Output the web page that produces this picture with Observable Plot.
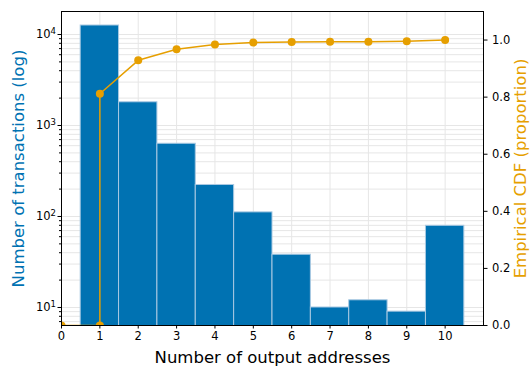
<!DOCTYPE html>
<html>
<head>
<meta charset="utf-8">
<script src="https://cdn.jsdelivr.net/npm/d3@7"></script>
<script src="https://cdn.jsdelivr.net/npm/@observablehq/plot@0.6"></script>
<style>
  html, body { margin: 0; padding: 0; background: #fff; }
  #chart { position: relative; width: 530px; height: 366px; }
  #chart svg { position: absolute; left: 0; top: 0; }
</style>
</head>
<body>
<div id="chart"></div>
<script>
// ---- data ----
const outputs = [1, 2, 3, 4, 5, 6, 7, 8, 9, 10];
const counts  = [12560, 1800, 630, 222, 111, 38, 10, 12, 9, 79];
const cdfX = [0, 1, 1, 2, 3, 4, 5, 6, 7, 8, 9, 10];
const cdfY = [0, 0, 0.812, 0.929, 0.968, 0.984, 0.991, 0.993, 0.994, 0.994, 0.996, 1.0];
const xTicks = [0, 1, 2, 3, 4, 5, 6, 7, 8, 9, 10];
const yMajor = [10, 100, 1000, 10000];
const yMajorExp = ["1", "2", "3", "4"];
const rightTicks = [0, 0.2, 0.4, 0.6, 0.8, 1.0];
const xLabel = "Number of output addresses";
const yLabel = "Number of transactions (log)";
const y2Label = "Empirical CDF (proportion)";

const BLUE = "#0072B2";
const ORANGE = "#E69F00";
const FONT = "DejaVu Sans";

const bars = outputs.map((n, i) => ({n, count: counts[i]}));
const cdf = cdfX.map((x, i) => ({x, p: cdfY[i]}));

const yDomain = [6.34, 17900];
const yMinor = [];
for (let e = 0; e <= 4; e++) for (let m = 1; m <= 9; m++) {
  const v = m * Math.pow(10, e);
  if (v >= yDomain[0] && v <= yDomain[1]) yMinor.push(v);
}

const W = 530, H = 366;
const margins = {marginLeft: 61, marginRight: 47, marginTop: 11, marginBottom: 41};

const p1 = Plot.plot({
  width: W, height: H, ...margins,
  style: {fontFamily: FONT, fontSize: "11px", background: "transparent", color: "#000"},
  x: {domain: [0, 11]},
  y: {type: "log", domain: yDomain},
  marks: [
    Plot.gridY(yMinor, {stroke: "#e6e6e6", strokeOpacity: 1}),
    Plot.gridX(xTicks, {stroke: "#e6e6e6", strokeOpacity: 1}),
    Plot.rect(bars, {
      x1: d => d.n - 0.5, x2: d => d.n + 0.5, y1: 1, y2: "count",
      fill: BLUE, stroke: "#a9c9e2", strokeWidth: 1, clip: true
    }),
    Plot.axisX(xTicks, {tickSize: 3.5, tickPadding: 3, fontSize: 11.5, label: null, tickFormat: d => String(d)}),
    Plot.axisY(yMinor, {tickSize: 2, text: null, label: null}),
    Plot.axisY(yMajor, {tickSize: 3.5, tickPadding: 2, fontSize: 11.5, label: null,
      tickFormat: d => "10^" + yMajorExp[yMajor.indexOf(d)]}),
    Plot.text([xLabel], {frameAnchor: "bottom", dy: 32, lineAnchor: "middle", fontSize: 16.5, fill: "#000", textAnchor: "middle"}),
    Plot.text([yLabel], {frameAnchor: "left", rotate: -90, dx: -43, fontSize: 16.5, fill: BLUE, textAnchor: "middle"})
  ]
});

// render exponents as real superscripts
p1.querySelectorAll("text").forEach(t => {
  const m = /^10\^(\d)$/.exec(t.textContent);
  if (!m) return;
  t.textContent = "10";
  const ts = document.createElementNS("http://www.w3.org/2000/svg", "tspan");
  ts.setAttribute("font-size", "0.74em");
  ts.setAttribute("dy", "-0.5em");
  ts.textContent = m[1];
  t.appendChild(ts);
});

const p2 = Plot.plot({
  width: W, height: H, ...margins,
  style: {fontFamily: FONT, fontSize: "11px", background: "transparent", color: "#000"},
  x: {domain: [0, 11], axis: null},
  y: {domain: [0, 1.1], axis: null},
  marks: [
    Plot.line(cdf, {x: "x", y: "p", stroke: ORANGE, strokeWidth: 1.5, clip: true}),
    Plot.dot(cdf, {x: "x", y: "p", r: 4, fill: ORANGE, stroke: "none", clip: true}),
    Plot.axisY(rightTicks, {anchor: "right", tickSize: 3.5, tickPadding: 5, fontSize: 11.5, label: null,
      tickFormat: d3.format(".1f")}),
    Plot.text([y2Label], {frameAnchor: "right", rotate: -90, dx: 37.5, fontSize: 16.5, fill: ORANGE, textAnchor: "middle"}),
    Plot.frame({stroke: "#000", strokeWidth: 1})
  ]
});

const chart = document.getElementById("chart");
chart.appendChild(p1);
chart.appendChild(p2);
</script>
</body>
</html>
